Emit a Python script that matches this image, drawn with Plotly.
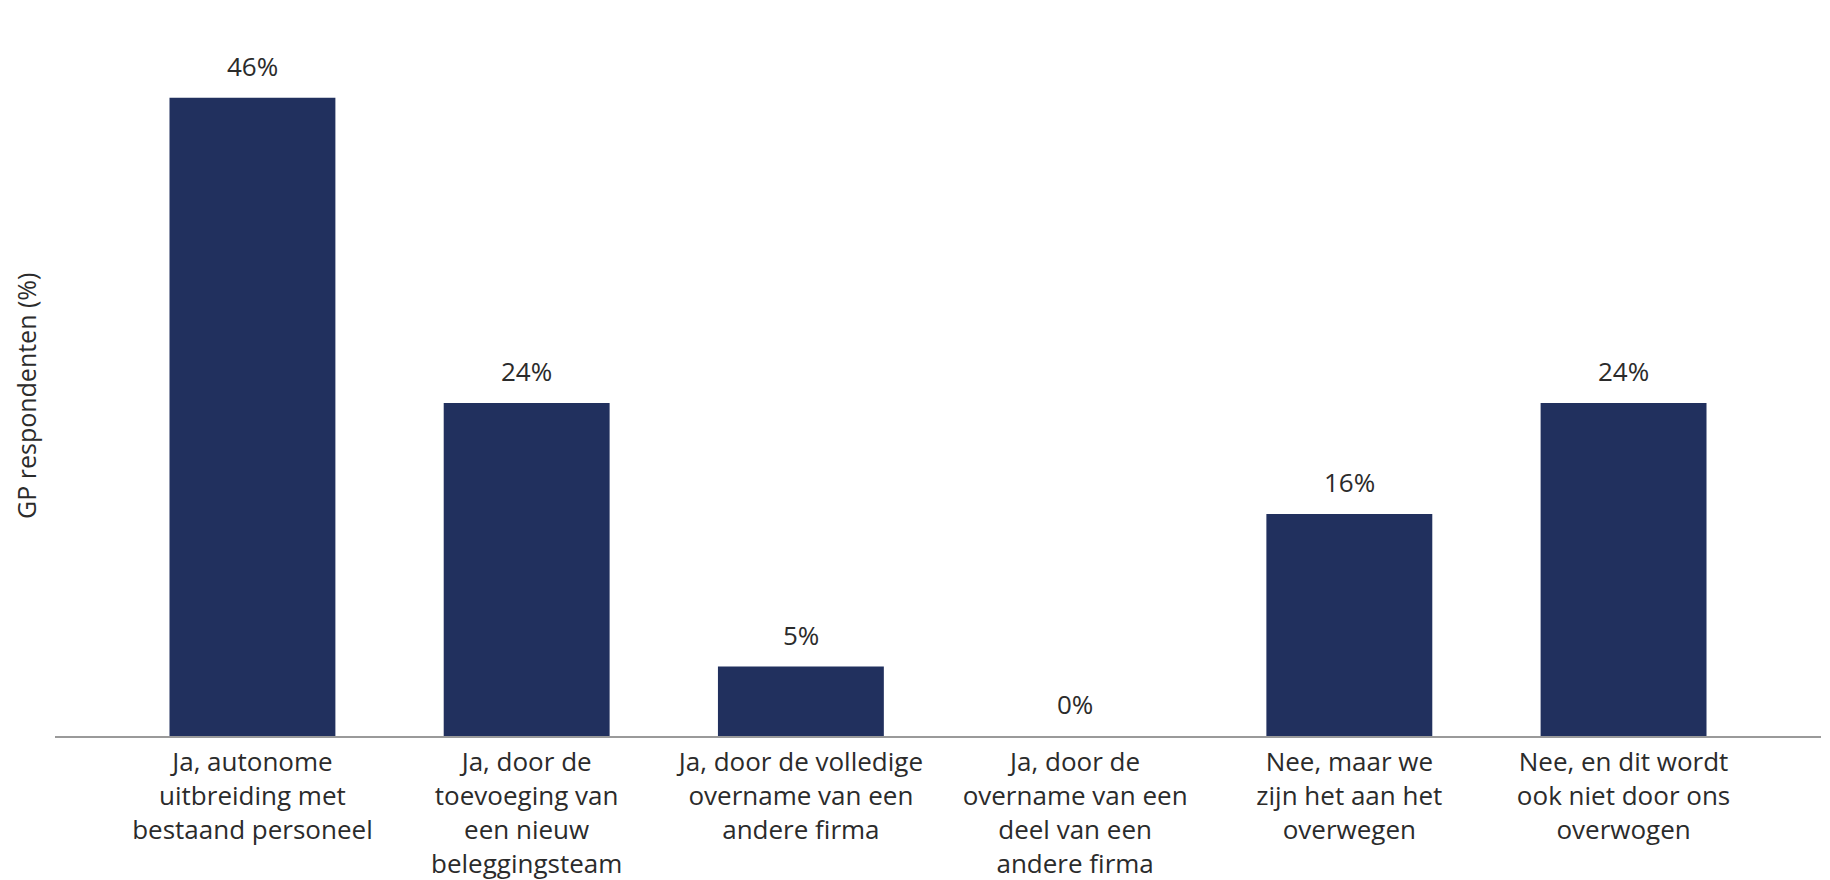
import plotly.graph_objects as go

categories = [
    "Ja, autonome<br>uitbreiding met<br>bestaand personeel",
    "Ja, door de<br>toevoeging van<br>een nieuw<br>beleggingsteam",
    "Ja, door de volledige<br>overname van een<br>andere firma",
    "Ja, door de<br>overname van een<br>deel van een<br>andere firma",
    "Nee, maar we<br>zijn het aan het<br>overwegen",
    "Nee, en dit wordt<br>ook niet door ons<br>overwogen",
]
values = [46, 24, 5, 0, 16, 24]

BAR_COLOR = "#21305e"
TEXT_COLOR = "#2b2b2b"
FONT = "Open Sans, Noto Sans, sans-serif"

fig = go.Figure(
    go.Bar(
        x=categories,
        y=values,
        marker=dict(color=BAR_COLOR, line=dict(width=0)),
        hoverinfo="skip",
    )
)

# value labels a bit above each bar
for cat, v in zip(categories, values):
    fig.add_annotation(
        x=cat, y=v, text=f"{v}%", showarrow=False,
        yanchor="bottom", yshift=12,
        font=dict(family=FONT, size=26, color=TEXT_COLOR),
    )

# y axis title, centred on the plot area
fig.add_annotation(
    text="GP respondenten (%)", xref="paper", yref="paper",
    x=0, y=0.5, xshift=-29, xanchor="center", yanchor="middle",
    textangle=-90, showarrow=False,
    font=dict(family=FONT, size=25, color=TEXT_COLOR),
)

fig.update_layout(
    width=1830,
    height=880,
    margin=dict(l=47, r=17, t=48, b=152),
    paper_bgcolor="white",
    plot_bgcolor="white",
    bargap=0.395,
    showlegend=False,
    font=dict(family=FONT, color=TEXT_COLOR),
)
fig.update_xaxes(
    range=[-0.72, 5.72],
    automargin=False,
    showline=True, linecolor="#9a9a9a", linewidth=2,
    showgrid=False, zeroline=False,
    ticks="outside", ticklen=2, tickcolor="rgba(0,0,0,0)",
    tickfont=dict(family=FONT, size=26, color=TEXT_COLOR),
    tickangle=0,
)
fig.update_yaxes(
    range=[0, 49],
    automargin=False,
    showticklabels=False, showgrid=False, zeroline=False, showline=False,
)

fig.write_html("out.html")
